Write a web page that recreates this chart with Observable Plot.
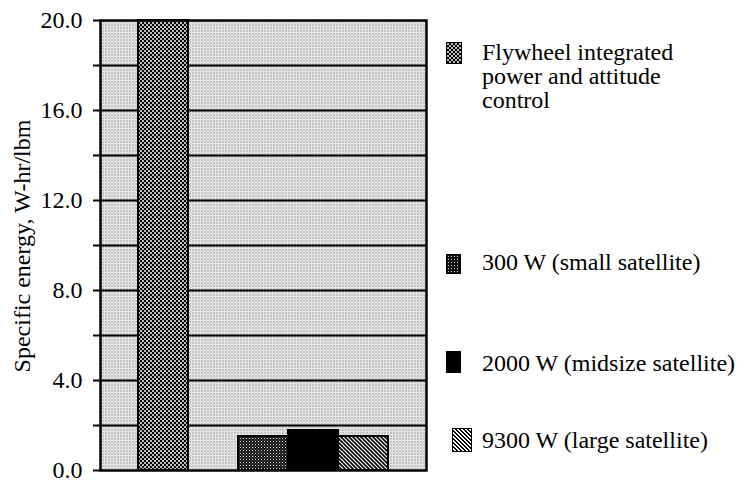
<!DOCTYPE html>
<html><head><meta charset="utf-8">
<script src="https://cdn.jsdelivr.net/npm/d3@7"></script>
<script src="https://cdn.jsdelivr.net/npm/@observablehq/plot@0.6"></script>
<style>
body{margin:0;background:#fff;}
#wrap{position:relative;width:737px;height:485px;font-family:"Liberation Serif","Times New Roman",serif;}
.leg{position:absolute;left:482px;font-size:24px;line-height:24px;color:#000;white-space:nowrap;}
.sw{position:absolute;border:1.5px solid #000;box-sizing:border-box;}
</style></head>
<body><div id="wrap"></div>
<script>
const bars = ["flywheel", "gap", "300 W", "2000 W", "9300 W"];
const values = [20.0, 0, 1.52, 1.76, 1.52];
const patterns = ["url(#pChecker)", "none", "url(#pDots)", "#000", "url(#pDiag)"];
const yTicks = [0, 4, 8, 12, 16, 20];
const yGrid = [2, 4, 6, 8, 10, 12, 14, 16, 18];
const yMinor = [0, 2, 4, 6, 8, 10, 12, 14, 16, 18, 20];
const legendLabels = ["Flywheel integrated<br>power and attitude<br>control", "300 W (small satellite)", "2000 W (midsize satellite)", "9300 W (large satellite)"];

const data = bars.map((b, i) => ({bar: b, value: values[i], fill: patterns[i]})).filter(d => d.value > 0);

const chart = Plot.plot({
  width: 737, height: 485,
  marginLeft: 100, marginRight: 311, marginTop: 20, marginBottom: 15,
  style: {fontFamily: "'Liberation Serif','Times New Roman',serif", fontSize: "24px", color: "#000", background: "transparent"},
  x: {domain: bars, padding: 0, paddingOuter: 0.76, axis: null},
  y: {domain: [0, 20], label: null},
  marks: [
    Plot.frame({fill: "url(#pBg)", stroke: null}),
    Plot.ruleY(yGrid, {stroke: "#000", strokeWidth: 2}),
    Plot.barY(data, {x: "bar", y: "value", fill: d => d.fill, stroke: "#000", strokeWidth: 2, shapeRendering: "crispEdges"}),
    Plot.axisY({ticks: yTicks, tickFormat: d => d.toFixed(1), tickSize: 0, tickPadding: 18, fontSize: 24, label: null}),
    Plot.axisY({ticks: yMinor, tickFormat: null, tickSize: 7, strokeWidth: 2, text: null, label: null}),
    Plot.frame({stroke: "#000", strokeWidth: 2.5})
  ],
  fill: {type: "identity"}
});

// patterns
const svg = d3.select(chart.tagName === "svg" ? chart : chart.querySelector("svg"));
const defs = svg.insert("defs", ":first-child");
const pBg = defs.append("pattern").attr("id", "pBg").attr("width", 3).attr("height", 3).attr("patternUnits", "userSpaceOnUse");
pBg.append("rect").attr("width", 3).attr("height", 3).attr("fill", "#f2f2f2");
pBg.append("rect").attr("x", 0).attr("y", 0).attr("width", 1).attr("height", 1).attr("fill", "#555");
pBg.append("rect").attr("x", 1.5).attr("y", 1.5).attr("width", 1).attr("height", 1).attr("fill", "#999");
const pC = defs.append("pattern").attr("id", "pChecker").attr("width", 4).attr("height", 4).attr("patternUnits", "userSpaceOnUse");
pC.append("rect").attr("width", 4).attr("height", 4).attr("fill", "#bbb");
pC.append("rect").attr("width", 2).attr("height", 2).attr("fill", "#000");
pC.append("rect").attr("x", 2).attr("y", 2).attr("width", 2).attr("height", 2).attr("fill", "#000");
const pD = defs.append("pattern").attr("id", "pDots").attr("width", 3).attr("height", 3).attr("patternUnits", "userSpaceOnUse");
pD.append("rect").attr("width", 3).attr("height", 3).attr("fill", "#111");
pD.append("rect").attr("width", 1).attr("height", 1).attr("fill", "#ddd");
pD.append("rect").attr("x", 1.5).attr("y", 1.5).attr("width", 1).attr("height", 1).attr("fill", "#888");
const pG = defs.append("pattern").attr("id", "pDiag").attr("width", 4).attr("height", 4).attr("patternUnits", "userSpaceOnUse");
pG.append("rect").attr("width", 4).attr("height", 4).attr("fill", "#fff");
pG.append("path").attr("d", "M-1,3 L1,5 M0,0 L4,4 M3,-1 L5,1").attr("stroke", "#000").attr("stroke-width", 1.6);

const wrap = document.getElementById("wrap");
wrap.appendChild(chart);

// y-axis title
const t = document.createElement("div");
t.textContent = "Specific energy, W-hr/lbm";
Object.assign(t.style, {position: "absolute", left: "22px", top: "246px", fontSize: "24px", whiteSpace: "nowrap", transform: "translate(-50%,-50%) rotate(-90deg)"});
wrap.appendChild(t);

// legend
const legPos = [
  {top: 40, sw: [446, 42, 16, 22], fill: "url(#pChecker)"},
  {top: 250, sw: [446, 254, 15, 20], fill: "url(#pDots)"},
  {top: 351, sw: [446, 351, 15, 22], fill: "#000"},
  {top: 428, sw: [452, 428, 20, 24], fill: "url(#pDiag)"}
];
const bgMap = {
  "url(#pChecker)": "repeating-conic-gradient(#000 0 25%, #bbb 0 50%) 0 0/4px 4px",
  "url(#pDots)": "radial-gradient(#ccc 0.6px, #111 0.8px) 0 0/3px 3px",
  "#000": "#000",
  "url(#pDiag)": "repeating-linear-gradient(45deg,#000 0 1.4px,#fff 1.4px 2.8px)"
};
legendLabels.forEach((lab, i) => {
  const p = legPos[i];
  const s = document.createElement("div");
  s.className = "sw";
  Object.assign(s.style, {left: p.sw[0] + "px", top: p.sw[1] + "px", width: p.sw[2] + "px", height: p.sw[3] + "px", background: bgMap[p.fill]});
  wrap.appendChild(s);
  const l = document.createElement("div");
  l.className = "leg";
  l.style.top = p.top + "px";
  l.innerHTML = lab;
  wrap.appendChild(l);
});
</script></body></html>
